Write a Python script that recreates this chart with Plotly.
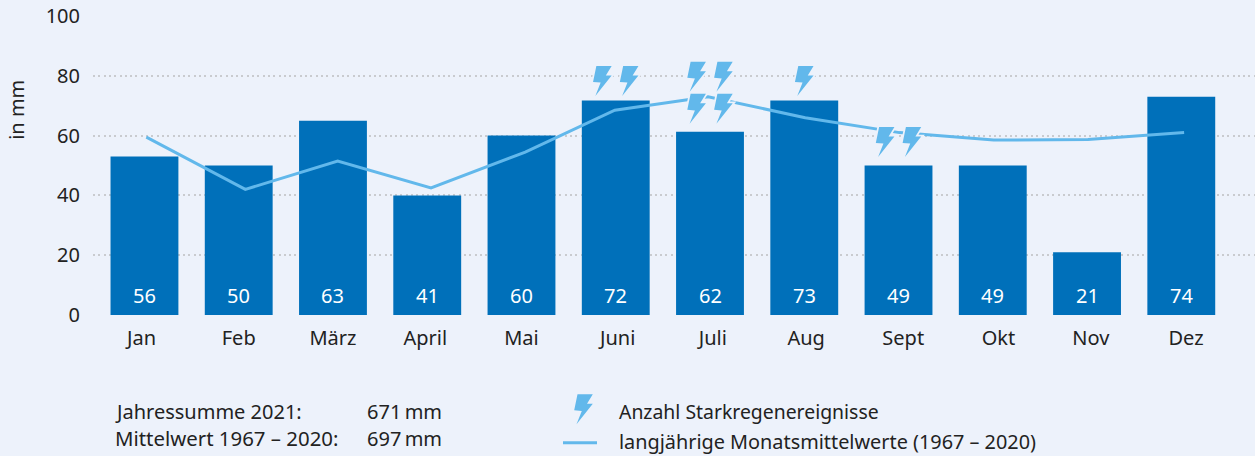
import plotly.graph_objects as go

W, H = 1255, 456
L, R, T, B = 93, 1255, 16, 315.5
months = ["Jan", "Feb", "März", "April", "Mai", "Juni", "Juli", "Aug", "Sept", "Okt", "Nov", "Dez"]
month_pos = [0, 1, 2, 3, 4, 5, 6, 7, 8, 9, 10, 11]
month_tick_pos = [-0.03, 1.0, 2.0, 2.98, 4.0, 5.02, 6.03, 7.02, 8.05, 9.06, 10.04, 11.05]
bar_heights = [53, 50, 65, 40, 60, 71.7, 61.3, 71.7, 50, 50, 21, 73]
bar_labels = ["56", "50", "63", "41", "60", "72", "62", "73", "49", "49", "21", "74"]
longterm_pos = [0.02, 1.07, 2.05, 3.04, 4.04, 4.99, 5.98, 7.01, 8.01, 9.01, 10.01, 11.03]
longterm_mean = [59.5, 42, 51.5, 42.5, 54.5, 68.5, 73, 66, 61, 58.5, 58.7, 61]
yticks = [0, 20, 40, 60, 80, 100]
storm_month = [5, 5, 6, 6, 6, 6, 7, 8, 8]
storm_side = [-1, 1, -1, 1, -1, 1, 0, -1, 1]
storm_level = [78.3, 78.3, 79.7, 79.7, 69, 69, 78.3, 57.9, 57.9]
summary_labels = ["Jahressumme 2021:", "Mittelwert 1967 – 2020:"]
summary_values = ["671\u2009mm", "697\u2009mm"]
legend_labels = ["Anzahl Starkregenereignisse", "langjährige Monatsmittelwerte (1967 – 2020)"]

BG = "#EDF2FB"
BAR = "#0070BA"
SKY = "#62B8EB"
INK = "#222222"
FONT = "Noto Sans"
FS = 20

BOLT = [(-6, 15), (9.3, 15), (3.5, 5.5), (9.3, 5.5), (-7, -15), (-1.7, -1.7), (-9.3, -1)]


def bolt_path(dx):
    return "M" + " L".join(f"{x + dx} {y}" for x, y in BOLT) + " Z"


def bolt_shapes(xanchor, yanchor, dx, xref="x", yref="y"):
    common = dict(type="path", xsizemode="pixel", ysizemode="pixel", xanchor=xanchor, yanchor=yanchor,
                  xref=xref, yref=yref, path=bolt_path(dx), layer="above")
    return [
        dict(common, fillcolor=BG, line=dict(color=BG, width=3.5)),
        dict(common, fillcolor=SKY, line=dict(width=0)),
    ]


def px(x):
    return (x - L) / (R - L)


def py(y):
    return (B - y) / (B - T)


fig = go.Figure()
fig.add_bar(x=month_pos, y=bar_heights, width=0.72, marker=dict(color=BAR, line=dict(width=0)))
fig.add_scatter(x=longterm_pos, y=longterm_mean, mode="lines", line=dict(color=SKY, width=3), hoverinfo="skip")

shapes = []
for m, s, lv in zip(storm_month, storm_side, storm_level):
    shapes += bolt_shapes(m, lv, s * 13.4)
shapes += bolt_shapes(px(583.5), py(410), 0, "paper", "paper")
shapes.append(dict(type="line", xref="paper", yref="paper", x0=px(563), x1=px(597), y0=py(443.5), y1=py(443.5),
                   line=dict(color=SKY, width=3)))

ann = []
for m, t in zip(month_pos, bar_labels):
    ann.append(dict(x=m, y=0, yshift=20, text=t, showarrow=False, font=dict(color="#FFFFFF", size=FS, family=FONT)))


def label(x, y, text, size=FS):
    ann.append(dict(xref="paper", yref="paper", x=px(x), y=py(y), text=text, showarrow=False, xanchor="left",
                    yanchor="middle", font=dict(color=INK, size=size, family=FONT)))


for y, a, b, s in zip((412, 439), summary_labels, summary_values, (20, 20.4)):
    label(113, y, a, s)
    label(365, y, b)
for y, t, s in zip((412, 442), legend_labels, (19.4, 19.85)):
    label(617, y, t, s)
ann.append(dict(xref="paper", yref="paper", x=px(17), y=py(110), text="in mm", textangle=-90, showarrow=False,
                xanchor="center", yanchor="middle", font=dict(color=INK, size=FS, family=FONT)))

fig.update_layout(
    width=W, height=H, autosize=False, showlegend=False, paper_bgcolor=BG, plot_bgcolor=BG,
    margin=dict(l=L, r=W - R, t=T, b=H - B, pad=0), bargap=0.28,
    font=dict(family=FONT, size=FS, color=INK), shapes=shapes, annotations=ann,
)
fig.update_xaxes(type="linear", range=[-0.546, 11.782], tickmode="array", tickvals=month_tick_pos, ticktext=months,
                 showgrid=False, zeroline=False, showline=False, ticks="", ticklen=0, ticklabelstandoff=9,
                 tickfont=dict(size=FS, color=INK, family=FONT))
fig.update_yaxes(range=[0, 100], tickvals=yticks, showgrid=True, gridcolor="#C9CBCF", gridwidth=2,
                 griddash="2px,3.3px", zeroline=False, showline=False, ticks="", ticklen=0, ticklabelstandoff=12,
                 tickfont=dict(size=FS, color=INK, family=FONT), automargin=False)
fig.write_html("out.html", config=dict(displayModeBar=False),
               post_script=f"document.body.style.margin='0';document.body.style.background='{BG}';"
                           "document.documentElement.style.overflow='hidden';")
